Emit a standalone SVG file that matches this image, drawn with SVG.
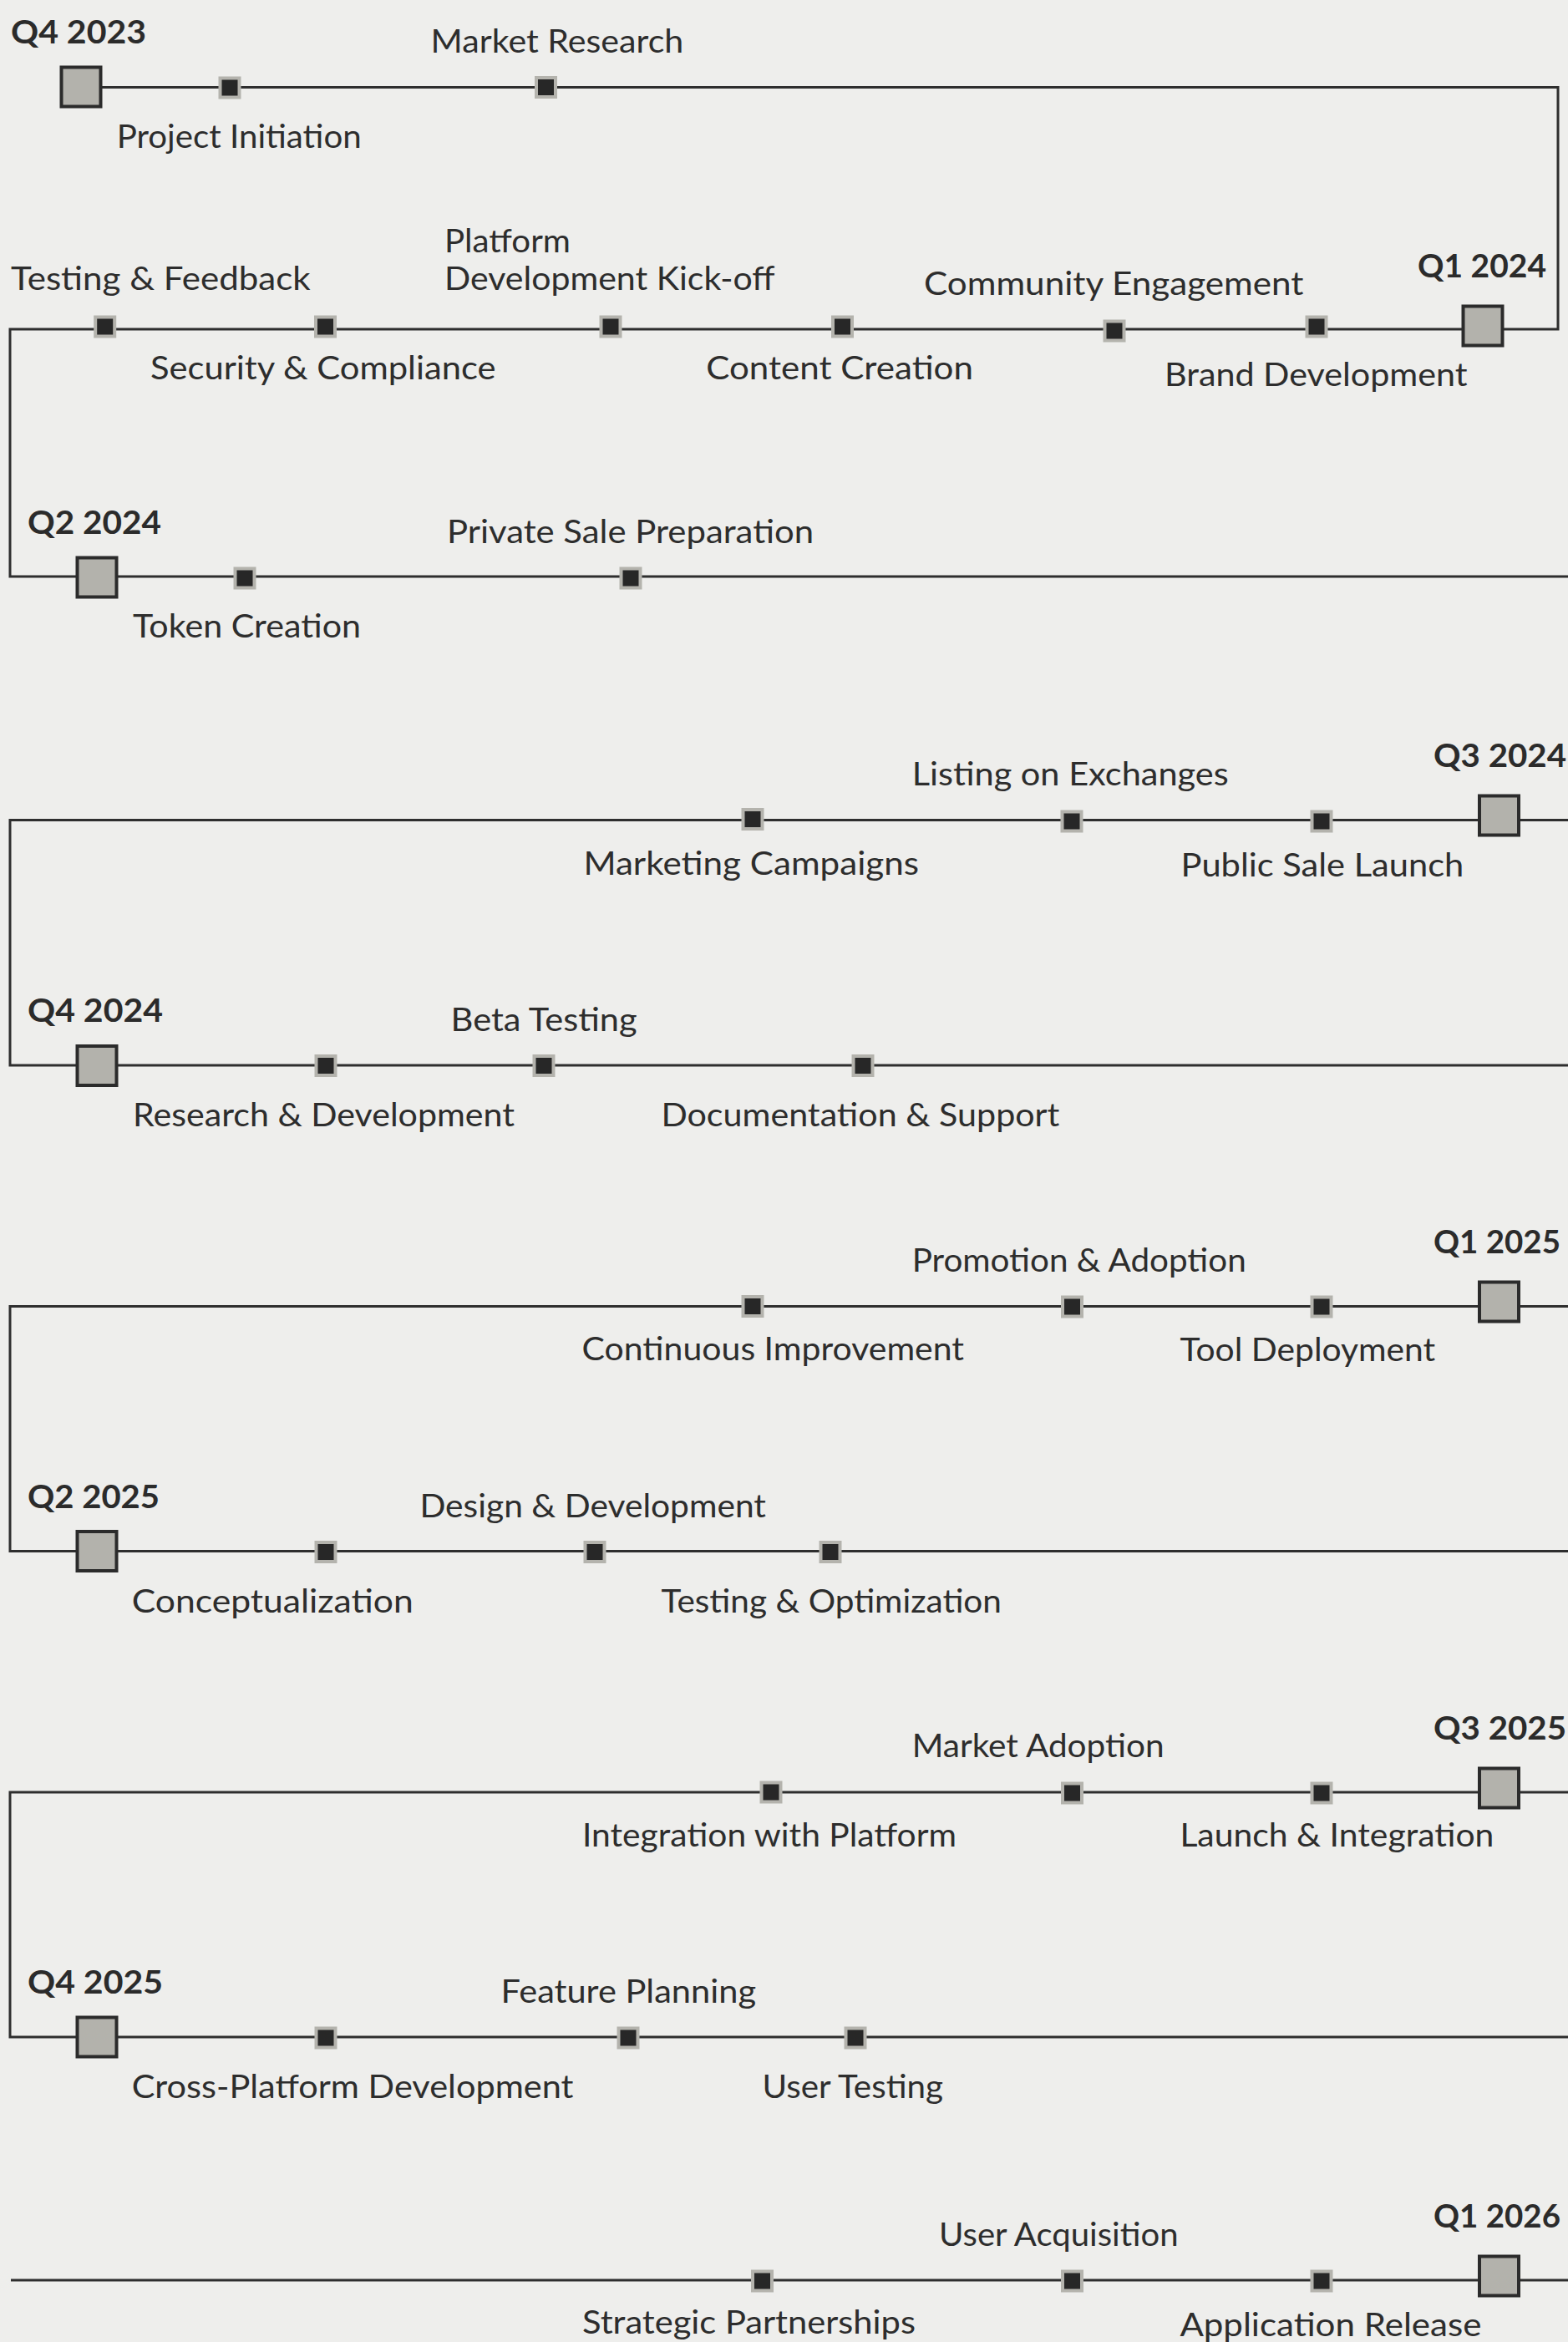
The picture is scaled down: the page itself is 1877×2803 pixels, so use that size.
<svg xmlns="http://www.w3.org/2000/svg" width="1877" height="2803" viewBox="0 0 1877 2803">
<style>
.bg{fill:#eeeeec}
.conn{fill:none;stroke:#2e2e2e;stroke-width:3}
.q{fill:#b3b2ac;stroke:#2b2b2b;stroke-width:4}
.m{fill:#272727;stroke:#b4b3ad;stroke-width:4}
.t{font-family:Lato,"Liberation Sans",sans-serif;font-size:38px;fill:#2d2d2d}
.qt{font-family:Lato,"Liberation Sans",sans-serif;font-size:39px;font-weight:700;fill:#2b2b2b}
</style>
<rect class="bg" x="0" y="0" width="1877" height="2803"/>
<g id="connectors">
<path class="conn" d="M97 104.5 H1865 V394 H12 V690 H1880 M1880 981.5 H12 V1275 H1880 M1880 1563.5 H12 V1856.5 H1880 M1880 2145 H12 V2438 H1880 M13 2729 H1880"/>
</g>
<g id="q4-2023"><rect class="q" x="73.5" y="80.5" width="47" height="47"/><text class="qt" x="13" y="52" textLength="162" lengthAdjust="spacingAndGlyphs">Q4 2023</text></g>
<g id="q1-2024"><rect class="q" x="1751.5" y="366.5" width="47" height="47"/><text class="qt" x="1697" y="331.7" textLength="154" lengthAdjust="spacingAndGlyphs">Q1 2024</text></g>
<g id="q2-2024"><rect class="q" x="92.5" y="667.5" width="47" height="47"/><text class="qt" x="33" y="639" textLength="160" lengthAdjust="spacingAndGlyphs">Q2 2024</text></g>
<g id="q3-2024"><rect class="q" x="1771" y="952.5" width="47" height="47"/><text class="qt" x="1716" y="918" textLength="159" lengthAdjust="spacingAndGlyphs">Q3 2024</text></g>
<g id="q4-2024"><rect class="q" x="92.5" y="1252" width="47" height="47"/><text class="qt" x="33" y="1223.3" textLength="162" lengthAdjust="spacingAndGlyphs">Q4 2024</text></g>
<g id="q1-2025"><rect class="q" x="1771" y="1534.5" width="47" height="47"/><text class="qt" x="1716" y="1500" textLength="152" lengthAdjust="spacingAndGlyphs">Q1 2025</text></g>
<g id="q2-2025"><rect class="q" x="92.5" y="1833" width="47" height="47"/><text class="qt" x="33" y="1805" textLength="158" lengthAdjust="spacingAndGlyphs">Q2 2025</text></g>
<g id="q3-2025"><rect class="q" x="1771" y="2116.5" width="47" height="47"/><text class="qt" x="1716" y="2081.7" textLength="159" lengthAdjust="spacingAndGlyphs">Q3 2025</text></g>
<g id="q4-2025"><rect class="q" x="92.5" y="2414.5" width="47" height="47"/><text class="qt" x="33" y="2386.3" textLength="162" lengthAdjust="spacingAndGlyphs">Q4 2025</text></g>
<g id="q1-2026"><rect class="q" x="1771" y="2700.5" width="47" height="47"/><text class="qt" x="1716" y="2665.7" textLength="152" lengthAdjust="spacingAndGlyphs">Q1 2026</text></g>

<g id="project-initiation"><rect class="m" x="263.5" y="93.5" width="23" height="23"/><text class="t" x="139.7" y="176.7" textLength="293" lengthAdjust="spacingAndGlyphs">Project Initiation</text></g>
<g id="market-research"><rect class="m" x="642" y="93" width="23" height="23"/><text class="t" x="515.6" y="62.7" textLength="302.7" lengthAdjust="spacingAndGlyphs">Market Research</text></g>

<g id="testing-feedback"><rect class="m" x="114.2" y="379.5" width="23" height="23"/><text class="t" x="13" y="347.3" textLength="358.7" lengthAdjust="spacingAndGlyphs">Testing &amp; Feedback</text></g>
<g id="security-compliance"><rect class="m" x="378" y="379.5" width="23" height="23"/><text class="t" x="180" y="454" textLength="413.5" lengthAdjust="spacingAndGlyphs">Security &amp; Compliance</text></g>
<g id="platform-kickoff"><rect class="m" x="719.5" y="379.5" width="23" height="23"/><text class="t" x="532" y="301.7" textLength="151" lengthAdjust="spacingAndGlyphs">Platform</text><text class="t" x="532" y="347.3" textLength="395.7" lengthAdjust="spacingAndGlyphs">Development Kick-off</text></g>
<g id="content-creation"><rect class="m" x="997" y="379.5" width="23" height="23"/><text class="t" x="845.3" y="454" textLength="319.7" lengthAdjust="spacingAndGlyphs">Content Creation</text></g>
<g id="community-engagement"><rect class="m" x="1322.5" y="384.5" width="23" height="23"/><text class="t" x="1106" y="353.3" textLength="454.5" lengthAdjust="spacingAndGlyphs">Community Engagement</text></g>
<g id="brand-development"><rect class="m" x="1564.5" y="379.5" width="23" height="23"/><text class="t" x="1394" y="461.7" textLength="362.5" lengthAdjust="spacingAndGlyphs">Brand Development</text></g>

<g id="token-creation"><rect class="m" x="281.5" y="680.5" width="23" height="23"/><text class="t" x="159" y="763" textLength="273" lengthAdjust="spacingAndGlyphs">Token Creation</text></g>
<g id="private-sale-preparation"><rect class="m" x="743.5" y="680.5" width="23" height="23"/><text class="t" x="535" y="650" textLength="439" lengthAdjust="spacingAndGlyphs">Private Sale Preparation</text></g>

<g id="marketing-campaigns"><rect class="m" x="889.5" y="969" width="23" height="23"/><text class="t" x="698.4" y="1046.7" textLength="401.6" lengthAdjust="spacingAndGlyphs">Marketing Campaigns</text></g>
<g id="listing-on-exchanges"><rect class="m" x="1271.5" y="971.5" width="23" height="23"/><text class="t" x="1091.7" y="940" textLength="379" lengthAdjust="spacingAndGlyphs">Listing on Exchanges</text></g>
<g id="public-sale-launch"><rect class="m" x="1570.5" y="971.5" width="23" height="23"/><text class="t" x="1413.6" y="1049" textLength="338.7" lengthAdjust="spacingAndGlyphs">Public Sale Launch</text></g>

<g id="research-development"><rect class="m" x="378.5" y="1264" width="23" height="23"/><text class="t" x="159" y="1348.3" textLength="457" lengthAdjust="spacingAndGlyphs">Research &amp; Development</text></g>
<g id="beta-testing"><rect class="m" x="639.5" y="1264" width="23" height="23"/><text class="t" x="539.6" y="1234" textLength="223" lengthAdjust="spacingAndGlyphs">Beta Testing</text></g>
<g id="documentation-support"><rect class="m" x="1021.5" y="1264" width="23" height="23"/><text class="t" x="791.4" y="1348" textLength="477" lengthAdjust="spacingAndGlyphs">Documentation &amp; Support</text></g>

<g id="continuous-improvement"><rect class="m" x="889.5" y="1552" width="23" height="23"/><text class="t" x="696.6" y="1628" textLength="457.4" lengthAdjust="spacingAndGlyphs">Continuous Improvement</text></g>
<g id="promotion-adoption"><rect class="m" x="1272" y="1552.5" width="23" height="23"/><text class="t" x="1091.7" y="1521.7" textLength="400" lengthAdjust="spacingAndGlyphs">Promotion &amp; Adoption</text></g>
<g id="tool-deployment"><rect class="m" x="1570.5" y="1552.5" width="23" height="23"/><text class="t" x="1412.4" y="1629.3" textLength="305.8" lengthAdjust="spacingAndGlyphs">Tool Deployment</text></g>

<g id="conceptualization"><rect class="m" x="378.5" y="1846" width="23" height="23"/><text class="t" x="157.7" y="1930" textLength="337" lengthAdjust="spacingAndGlyphs">Conceptualization</text></g>
<g id="design-development"><rect class="m" x="700.5" y="1846" width="23" height="23"/><text class="t" x="502.4" y="1816" textLength="414.6" lengthAdjust="spacingAndGlyphs">Design &amp; Development</text></g>
<g id="testing-optimization"><rect class="m" x="982.5" y="1846" width="23" height="23"/><text class="t" x="791.4" y="1930" textLength="407.6" lengthAdjust="spacingAndGlyphs">Testing &amp; Optimization</text></g>

<g id="integration-with-platform"><rect class="m" x="911.5" y="2133.5" width="23" height="23"/><text class="t" x="697" y="2210" textLength="448" lengthAdjust="spacingAndGlyphs">Integration with Platform</text></g>
<g id="market-adoption"><rect class="m" x="1272" y="2134.5" width="23" height="23"/><text class="t" x="1091.7" y="2103.3" textLength="302" lengthAdjust="spacingAndGlyphs">Market Adoption</text></g>
<g id="launch-integration"><rect class="m" x="1570.5" y="2134.5" width="23" height="23"/><text class="t" x="1412.4" y="2210" textLength="376" lengthAdjust="spacingAndGlyphs">Launch &amp; Integration</text></g>

<g id="cross-platform-development"><rect class="m" x="378.5" y="2427.5" width="23" height="23"/><text class="t" x="157.7" y="2511.3" textLength="528.8" lengthAdjust="spacingAndGlyphs">Cross-Platform Development</text></g>
<g id="feature-planning"><rect class="m" x="740.5" y="2427.5" width="23" height="23"/><text class="t" x="599.5" y="2397" textLength="305.5" lengthAdjust="spacingAndGlyphs">Feature Planning</text></g>
<g id="user-testing"><rect class="m" x="1012.5" y="2427.5" width="23" height="23"/><text class="t" x="912.5" y="2511" textLength="216.5" lengthAdjust="spacingAndGlyphs">User Testing</text></g>

<g id="strategic-partnerships"><rect class="m" x="901" y="2718.5" width="23" height="23"/><text class="t" x="697" y="2793" textLength="399" lengthAdjust="spacingAndGlyphs">Strategic Partnerships</text></g>
<g id="user-acquisition"><rect class="m" x="1272" y="2718.5" width="23" height="23"/><text class="t" x="1124" y="2688" textLength="286.6" lengthAdjust="spacingAndGlyphs">User Acquisition</text></g>
<g id="application-release"><rect class="m" x="1570.5" y="2718.5" width="23" height="23"/><text class="t" x="1412.4" y="2795.7" textLength="361" lengthAdjust="spacingAndGlyphs">Application Release</text></g>
</svg>
